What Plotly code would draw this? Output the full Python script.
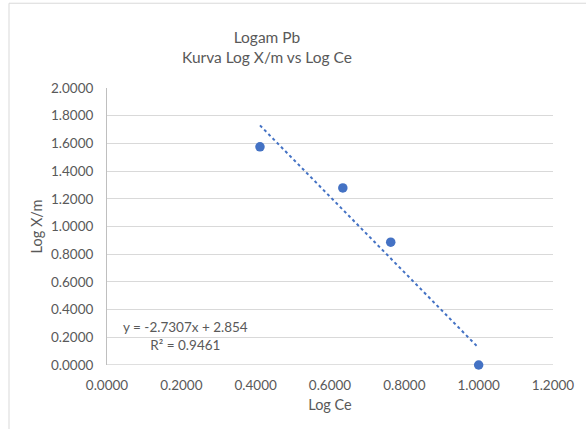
import plotly.graph_objects as go

log_ce = [0.4116, 0.6345, 0.7634, 1.0000]
log_xm = [1.5752, 1.2788, 0.8865, 0.0000]
slope = -2.7307
intercept = 2.854
r2 = 0.9461
x_ticks = [0.0, 0.2, 0.4, 0.6, 0.8, 1.0, 1.2]
y_ticks = [0.0, 0.2, 0.4, 0.6, 0.8, 1.0, 1.2, 1.4, 1.6, 1.8, 2.0]

blue = "#4472C4"
gray_text = "#595959"
font = "Lato, Carlito, Calibri, sans-serif"

trend_x = [min(log_ce), max(log_ce)]
trend_y = [slope * v + intercept for v in trend_x]

fig = go.Figure()
fig.add_trace(go.Scatter(x=trend_x, y=trend_y, mode="lines",
                         line=dict(color=blue, width=2, dash="dot"),
                         hoverinfo="skip", showlegend=False, cliponaxis=False))
fig.add_trace(go.Scatter(x=log_ce, y=log_xm, mode="markers",
                         marker=dict(color=blue, size=9.5),
                         showlegend=False, cliponaxis=False))

fig.update_layout(
    width=586, height=429,
    margin=dict(l=107, r=33, t=88, b=64),
    paper_bgcolor="white", plot_bgcolor="white",
    font=dict(family=font, color=gray_text, size=13),
    title=dict(text="Logam Pb<br>Kurva Log X/m vs Log Ce",
               xref="container", x=267 / 586, xanchor="center",
               y=0.900, yanchor="top",
               font=dict(family=font, size=15.5, color=gray_text)),
    xaxis=dict(range=[0, 1.2], tickvals=x_ticks, tickformat=".4f",
               showgrid=False, zeroline=False,
               showline=False, ticks="", ticklabelstandoff=10,
               title=dict(text="Log Ce", font=dict(size=14.5, color=gray_text), standoff=8),
               tickfont=dict(size=13.5, color=gray_text)),
    yaxis=dict(range=[0, 2.0], tickvals=y_ticks, tickformat=".4f",
               showgrid=True, gridcolor="#D9D9D9", gridwidth=1,
               zeroline=False, showline=True, linecolor="#BFBFBF", linewidth=1,
               ticks="", ticklabelstandoff=10,
               title=dict(text="Log X/m", font=dict(size=14.5, color=gray_text), standoff=4),
               tickfont=dict(size=13.5, color=gray_text)),
    shapes=[
        dict(type="line", xref="paper", yref="y", x0=0, x1=1, y0=0, y1=0,
             line=dict(color="#BFBFBF", width=1), layer="below"),
        dict(type="rect", xref="paper", yref="paper",
             x0=-0.2197, x1=1.2, y0=-0.3, y1=1.306,
             line=dict(color="#D9D9D9", width=1)),
    ],
    annotations=[
        dict(text=f"y = {slope}x + {intercept}<br>R² = {r2}", xref="x", yref="y",
             x=0.21, y=0.213, xanchor="center", yanchor="middle", align="center",
             showarrow=False, font=dict(size=13.5, color=gray_text)),
    ],
)

fig.write_html("out.html")
